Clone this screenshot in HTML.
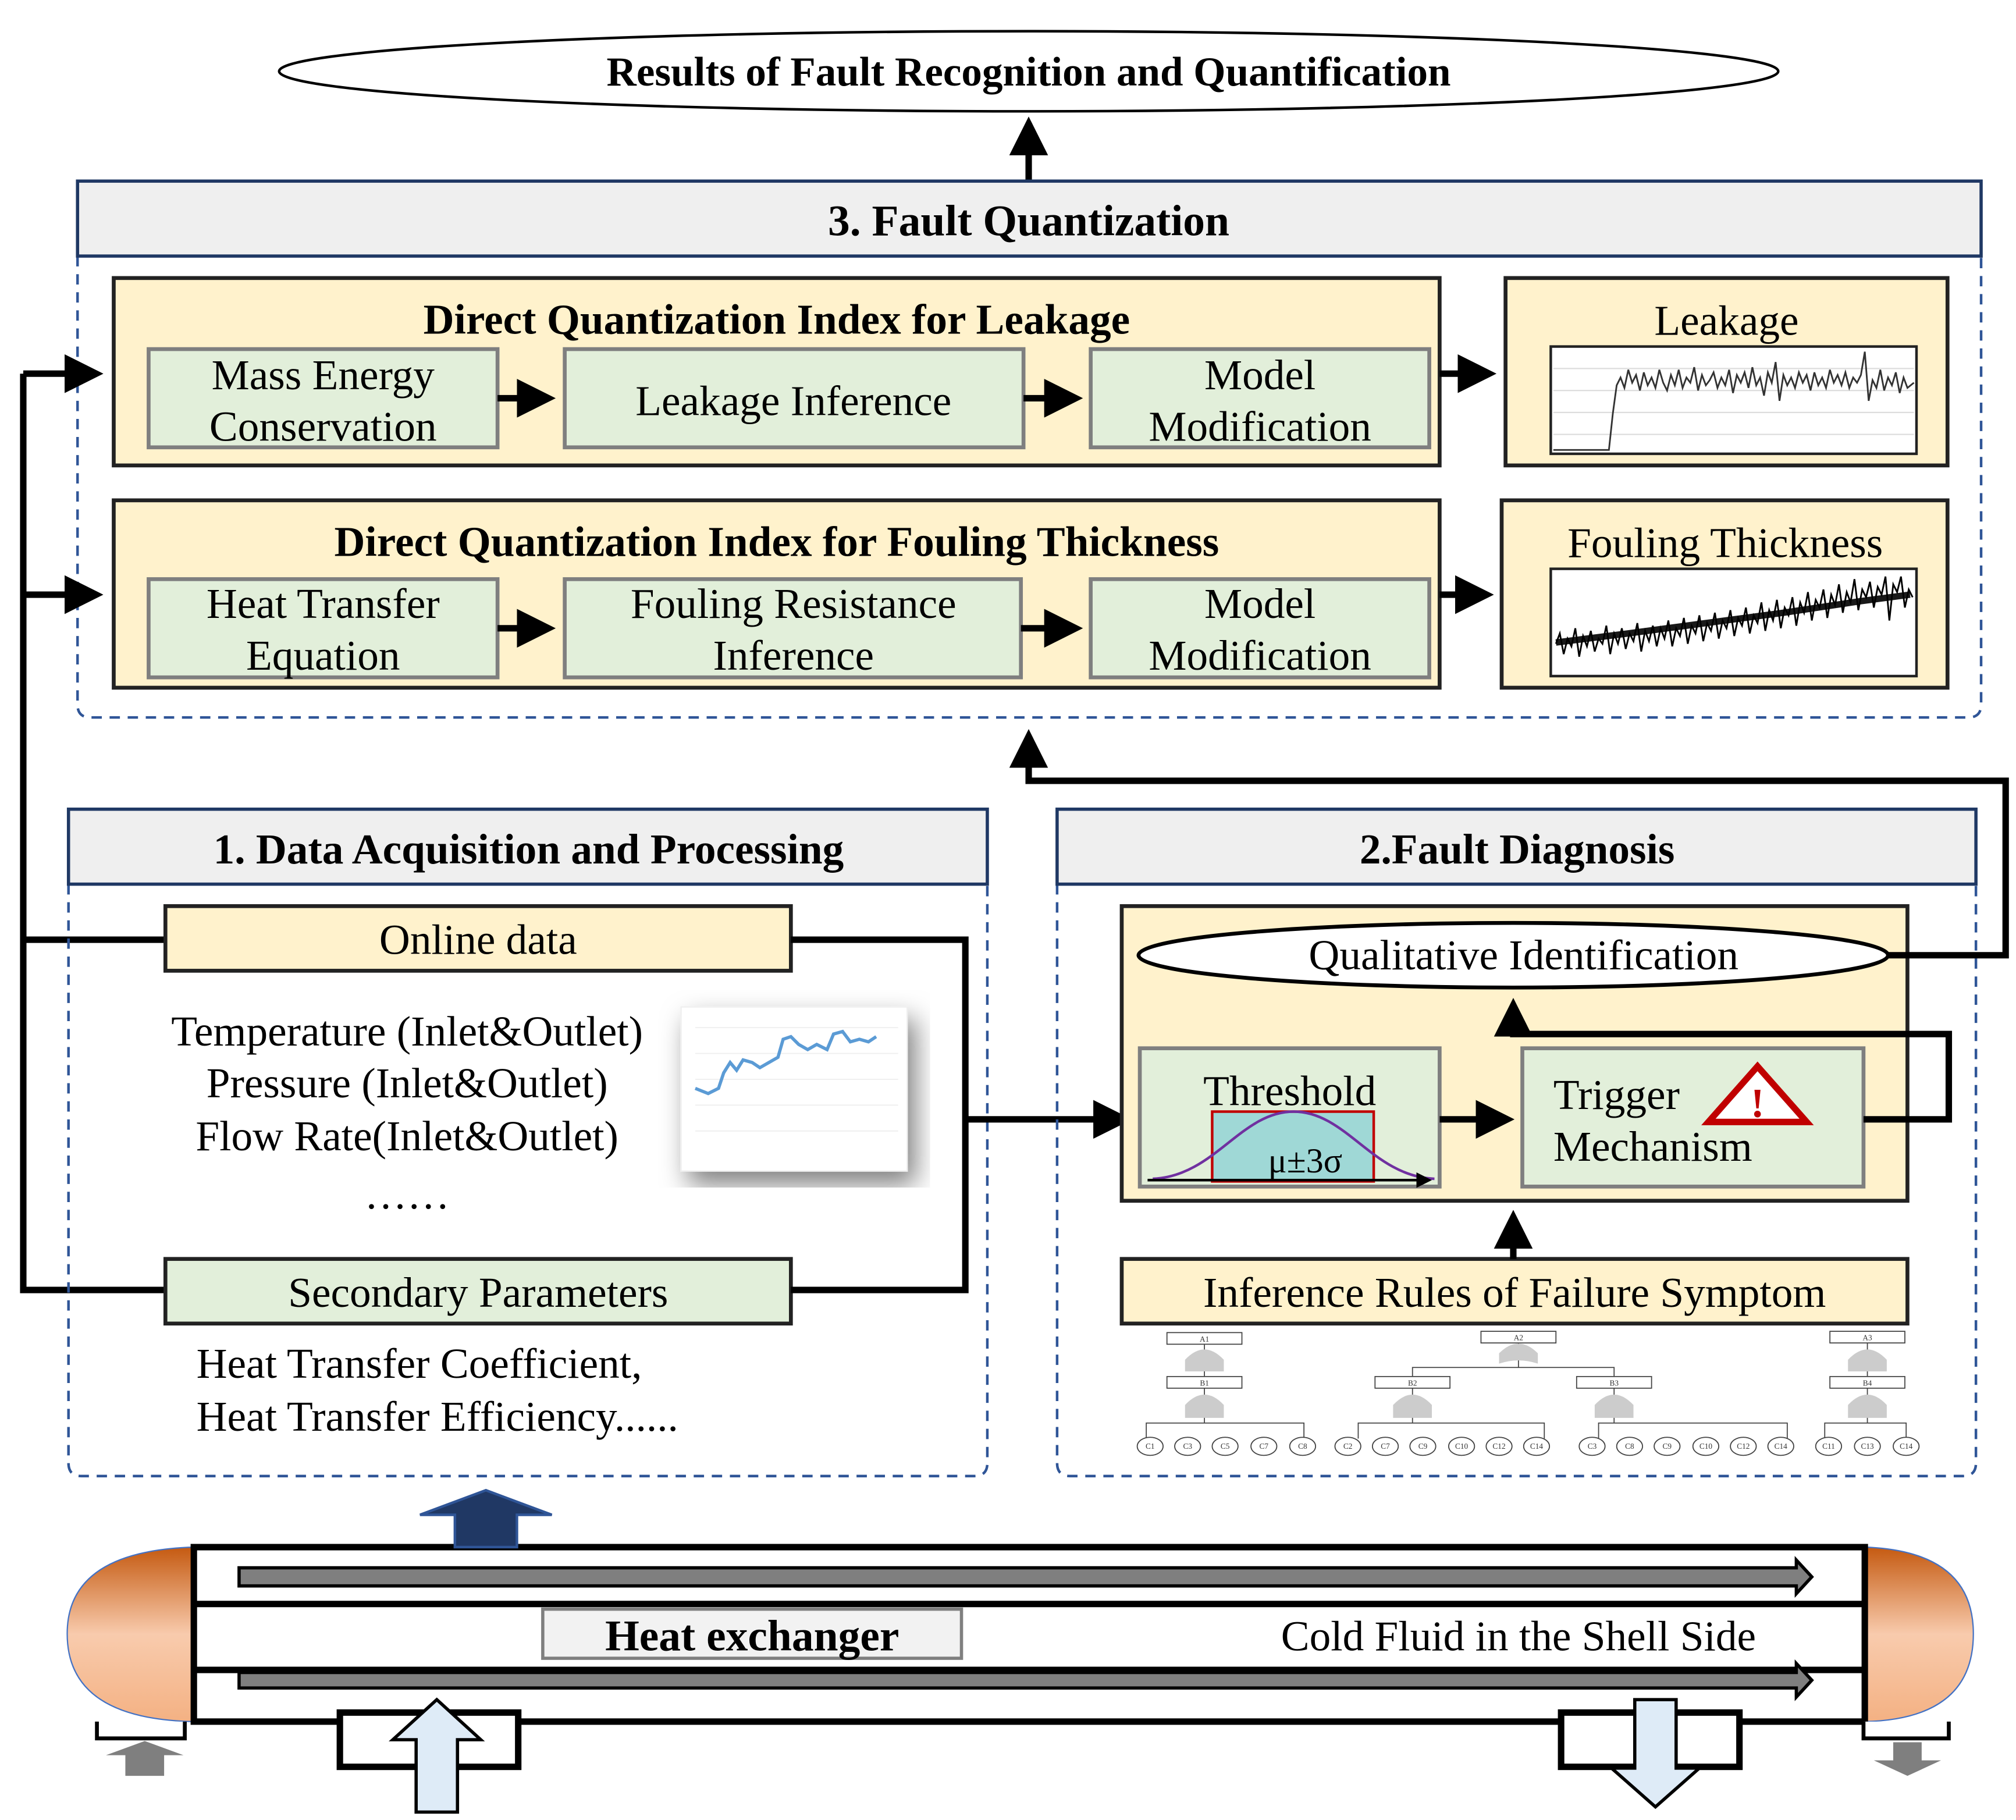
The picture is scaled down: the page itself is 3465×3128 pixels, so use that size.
<!DOCTYPE html>
<html><head><meta charset="utf-8"><style>html,body{margin:0;padding:0;background:#fff}svg{display:block}text{font-family:"Liberation Serif",serif}</style></head>
<body>
<svg width="3465" height="3128" viewBox="0 0 1560 1408" xmlns="http://www.w3.org/2000/svg">
<defs>
<marker id="ah" markerWidth="6" markerHeight="6" refX="4" refY="3" orient="auto" markerUnits="strokeWidth"><path d="M0,0 L6,3 L0,6 z" fill="#000"/></marker>
<linearGradient id="cap" x1="0" y1="0" x2="0" y2="1"><stop offset="0" stop-color="#c55a11"/><stop offset="0.5" stop-color="#f8cbad"/><stop offset="1" stop-color="#f4b183"/></linearGradient>
<filter id="sh"><feDropShadow dx="6" dy="10" stdDeviation="10" flood-color="#000" flood-opacity="0.5"/></filter>
</defs>
<g fill="none" stroke="#000">
<ellipse cx="796" cy="55" rx="580" ry="31" fill="#fff" stroke-width="2"/>
<line x1="796" y1="140" x2="796" y2="100" stroke-width="5" marker-end="url(#ah)"/>
<path d="M60,198 V545 Q60,555 70,555 H1523 Q1533,555 1533,545 V198" stroke="#2f5597" stroke-width="2" stroke-dasharray="8,6"/>
<rect x="60" y="140" width="1473" height="58" fill="#efefef" stroke="#1f3864" stroke-width="2.5"/>
<rect x="88" y="215" width="1026" height="145" fill="#fff2cc" stroke="#222" stroke-width="3"/>
<rect x="88" y="387" width="1026" height="145" fill="#fff2cc" stroke="#222" stroke-width="3"/>
<g fill="#e2efda" stroke="#7f7f7f" stroke-width="3">
<rect x="115" y="270" width="270" height="76"/><rect x="437" y="270" width="355" height="76"/><rect x="844" y="270" width="262" height="76"/>
<rect x="115" y="448" width="270" height="76"/><rect x="437" y="448" width="353" height="76"/><rect x="844" y="448" width="262" height="76"/>
</g>
<g stroke-width="5" marker-end="url(#ah)">
<line x1="385" y1="308" x2="420" y2="308"/><line x1="792" y1="308" x2="828" y2="308"/>
<line x1="385" y1="486" x2="420" y2="486"/><line x1="790" y1="486" x2="828" y2="486"/>
<line x1="1114" y1="289" x2="1148" y2="289"/><line x1="1114" y1="460" x2="1146" y2="460"/>
<line x1="18" y1="289" x2="70" y2="289"/><line x1="18" y1="460" x2="70" y2="460"/>
</g>
<rect x="1165" y="215" width="342" height="145" fill="#fff2cc" stroke="#222" stroke-width="3"/>
<rect x="1200" y="268" width="283" height="83" fill="#fff" stroke="#222" stroke-width="2"/>
<rect x="1162" y="387" width="345" height="145" fill="#fff2cc" stroke="#222" stroke-width="3"/>
<rect x="1200" y="440" width="283" height="83" fill="#fff" stroke="#222" stroke-width="2"/>
<g stroke="#ddd" stroke-width="1"><line x1="1202" y1="285" x2="1481" y2="285"/><line x1="1202" y1="302" x2="1481" y2="302"/><line x1="1202" y1="319" x2="1481" y2="319"/><line x1="1202" y1="336" x2="1481" y2="336"/></g>
<polyline stroke="#333" stroke-width="1.3" points="1202,348 1245,348 1248,320 1251,298 1254,292 1257,300 1260,286 1263,296 1266,290 1269,302 1272,288 1275,298 1278,292 1281,300 1284,286 1287,296 1290,302 1293,290 1296,298 1299,286 1302,300 1305,292 1308,296 1311,284 1314,302 1317,290 1320,298 1323,294 1326,288 1329,300 1332,292 1335,298 1338,286 1341,304 1344,290 1347,296 1350,288 1353,300 1356,284 1359,298 1362,292 1365,306 1368,288 1371,296 1374,280 1377,310 1380,290 1383,298 1386,292 1389,300 1392,288 1395,296 1398,290 1401,302 1404,288 1407,298 1410,292 1413,300 1416,286 1419,296 1422,290 1425,298 1428,288 1431,300 1434,292 1437,296 1440,290 1443,272 1446,310 1449,294 1452,300 1455,286 1458,302 1461,292 1464,298 1467,288 1470,304 1473,292 1476,300 1481,296"/>
<polyline stroke="#000" stroke-width="1.3" points="1204,498 1207,490 1210,506 1213,494 1216,500 1219,486 1222,508 1225,492 1228,500 1231,488 1234,504 1237,494 1240,498 1243,484 1246,506 1249,490 1252,498 1255,486 1258,502 1261,490 1264,496 1267,482 1270,504 1273,488 1276,496 1279,484 1282,500 1285,486 1288,494 1291,480 1294,500 1297,486 1300,492 1303,478 1306,498 1309,484 1312,490 1315,476 1318,496 1321,482 1324,488 1327,474 1330,494 1333,480 1336,486 1339,472 1342,492 1345,478 1348,484 1351,470 1354,490 1357,476 1360,482 1363,466 1366,488 1369,472 1372,480 1375,464 1378,486 1381,470 1384,476 1387,462 1390,484 1393,466 1396,474 1399,458 1402,480 1405,464 1408,470 1411,456 1414,478 1417,460 1420,468 1423,452 1426,474 1429,458 1432,466 1435,448 1438,472 1441,456 1444,462 1447,450 1450,470 1453,454 1456,460 1459,446 1462,480 1465,452 1468,458 1471,446 1474,470 1477,456 1480,462"/>
<polyline stroke="#000" stroke-width="5" opacity="0.9" points="1204,497 1260,490 1320,482 1380,474 1440,465 1478,460"/>
<polyline stroke-width="5" points="18,289 18,998 128,998"/><line x1="18" y1="727" x2="128" y2="727" stroke-width="5"/>
<path d="M53,684 V1132 Q53,1142 63,1142 H754 Q764,1142 764,1132 V684" stroke="#2f5597" stroke-width="2" stroke-dasharray="8,6"/>
<rect x="53" y="626" width="711" height="58" fill="#efefef" stroke="#1f3864" stroke-width="2.5"/>
<rect x="128" y="701" width="484" height="50" fill="#fff2cc" stroke="#222" stroke-width="3"/>
<rect x="128" y="974" width="484" height="50" fill="#e2efda" stroke="#222" stroke-width="3"/>
<polyline stroke-width="5" points="612,727 747,727 747,998 612,998"/>
<line x1="747" y1="866" x2="866" y2="866" stroke-width="5" marker-end="url(#ah)"/>
<rect x="527" y="779" width="175" height="127" fill="#fff" stroke="#eee" filter="url(#sh)"/>
<g stroke="#eee" stroke-width="0.8"><line x1="538" y1="795" x2="695" y2="795"/><line x1="538" y1="815" x2="695" y2="815"/><line x1="538" y1="835" x2="695" y2="835"/><line x1="538" y1="855" x2="695" y2="855"/><line x1="538" y1="875" x2="695" y2="875"/></g>
<polyline stroke="#5b9bd5" stroke-width="2.5" points="538,842 548,846 556,842 560,830 565,822 570,828 575,820 582,822 588,826 595,822 602,818 606,804 612,802 618,808 625,812 632,808 640,812 645,800 652,798 658,806 665,804 672,806 678,802"/>
<path d="M818,684 V1132 Q818,1142 828,1142 H1519 Q1529,1142 1529,1132 V684" stroke="#2f5597" stroke-width="2" stroke-dasharray="8,6"/>
<rect x="818" y="626" width="711" height="58" fill="#efefef" stroke="#1f3864" stroke-width="2.5"/>
<rect x="868" y="701" width="608" height="228" fill="#fff2cc" stroke="#222" stroke-width="3"/>
<ellipse cx="1171" cy="739" rx="290" ry="25" fill="#fff" stroke-width="3"/>
<rect x="882" y="811" width="232" height="107" fill="#e2efda" stroke="#7f7f7f" stroke-width="3"/>
<rect x="938" y="860" width="125" height="54" fill="#9fd8d6" stroke="#c00000" stroke-width="2"/>
<path d="M892,912 C940,910 960,860 1001,860 C1042,860 1062,910 1110,912" stroke="#7030a0" stroke-width="2"/>
<line x1="888" y1="913" x2="1104" y2="913" stroke-width="2" marker-end="url(#ah)"/>
<rect x="1178" y="811" width="264" height="107" fill="#e2efda" stroke="#7f7f7f" stroke-width="3"/>
<path d="M1360,825 L1398,868 L1322,868 Z" fill="#fff" stroke="#c00000" stroke-width="5"/>
<line x1="1114" y1="866" x2="1162" y2="866" stroke-width="5" marker-end="url(#ah)"/>
<polyline stroke-width="5" points="1442,866 1508,866 1508,800 1171,800 1171,782" marker-end="url(#ah)"/>
<polyline stroke-width="5" points="1461,739 1552,739 1552,604 796,604 796,574" marker-end="url(#ah)"/>
<rect x="868" y="974" width="608" height="50" fill="#fff2cc" stroke="#222" stroke-width="3"/>
<line x1="1171" y1="974" x2="1171" y2="946" stroke-width="5" marker-end="url(#ah)"/>
<g stroke="#444" stroke-width="0.8">
<rect x="903" y="1031" width="58" height="9" fill="#fff"/><rect x="903" y="1065" width="58" height="9" fill="#fff"/>
<rect x="1146" y="1030" width="58" height="9" fill="#fff"/><rect x="1064" y="1065" width="58" height="9" fill="#fff"/><rect x="1220" y="1065" width="58" height="9" fill="#fff"/>
<rect x="1416" y="1030" width="58" height="9" fill="#fff"/><rect x="1416" y="1065" width="58" height="9" fill="#fff"/>
<path d="M932,1040V1065 M932,1074V1101 M1175,1039V1058 M1093,1065V1058H1249V1065 M1093,1074V1101 M1249,1074V1101 M1445,1039V1065 M1445,1074V1101"/>
<path d="M887,1113V1101H1009V1113 M1051,1113V1101H1195V1113 M1237,1113V1101H1383V1113 M1412,1113V1101H1475V1113"/>
</g>
<g fill="#ccc" stroke="none">
<path d="M917,1061 V1052 Q932,1036 947,1052 V1061Z"/><path d="M917,1097 V1087 Q932,1071 947,1087 V1097Z"/>
<path d="M1160,1055 V1047 Q1175,1032 1190,1047 V1055 Q1175,1050 1160,1055Z"/>
<path d="M1078,1097 V1087 Q1093,1071 1108,1087 V1097Z"/><path d="M1234,1097 V1087 Q1249,1071 1264,1087 V1097Z"/>
<path d="M1430,1061 V1052 Q1445,1036 1460,1052 V1061Z"/><path d="M1430,1097 V1087 Q1445,1071 1460,1087 V1097Z"/>
</g>
<g fill="#fff" stroke="#444" stroke-width="0.8">
<ellipse cx="890" cy="1119" rx="10" ry="7"/><ellipse cx="919" cy="1119" rx="10" ry="7"/><ellipse cx="948" cy="1119" rx="10" ry="7"/><ellipse cx="978" cy="1119" rx="10" ry="7"/><ellipse cx="1008" cy="1119" rx="10" ry="7"/>
<ellipse cx="1043" cy="1119" rx="10" ry="7"/><ellipse cx="1072" cy="1119" rx="10" ry="7"/><ellipse cx="1101" cy="1119" rx="10" ry="7"/><ellipse cx="1131" cy="1119" rx="10" ry="7"/><ellipse cx="1160" cy="1119" rx="10" ry="7"/><ellipse cx="1189" cy="1119" rx="10" ry="7"/>
<ellipse cx="1232" cy="1119" rx="10" ry="7"/><ellipse cx="1261" cy="1119" rx="10" ry="7"/><ellipse cx="1290" cy="1119" rx="10" ry="7"/><ellipse cx="1320" cy="1119" rx="10" ry="7"/><ellipse cx="1349" cy="1119" rx="10" ry="7"/><ellipse cx="1378" cy="1119" rx="10" ry="7"/>
<ellipse cx="1415" cy="1119" rx="10" ry="7"/><ellipse cx="1445" cy="1119" rx="10" ry="7"/><ellipse cx="1475" cy="1119" rx="10" ry="7"/>
</g>
<path d="M150,1197 Q52,1200 52,1264 Q52,1330 150,1332 Z" fill="url(#cap)" stroke="#4472c4" stroke-width="1"/>
<path d="M1443,1197 Q1527,1200 1527,1264 Q1527,1330 1443,1332 Z" fill="url(#cap)" stroke="#4472c4" stroke-width="1"/>
<rect x="150" y="1197" width="1293" height="135" fill="#fff" stroke-width="5"/>
<line x1="150" y1="1241" x2="1443" y2="1241" stroke-width="5"/><line x1="150" y1="1292" x2="1443" y2="1292" stroke-width="5"/>
<path d="M185,1213 H1390 V1207 L1402,1220 L1390,1233 V1227 H185Z" fill="#7f7f7f" stroke-width="2.5"/>
<path d="M185,1294 H1390 V1287 L1402,1300 L1390,1313 V1306 H185Z" fill="#7f7f7f" stroke-width="2.5"/>
<rect x="420" y="1245" width="324" height="38" fill="#f2f2f2" stroke="#7f7f7f" stroke-width="2.5"/>
<path d="M352,1197 V1172 H325 L376,1153 L427,1172 H400 V1197Z" fill="#203864" stroke="#2f5597" stroke-width="2"/>
<path d="M75,1332 V1345 H143 V1332" fill="#fff" stroke-width="3"/>
<path d="M1442,1332 V1345 H1508 V1332" fill="#fff" stroke-width="3"/>
<path d="M97,1374 V1358 H82 L112,1347 L142,1358 H127 V1374Z" fill="#7f7f7f" stroke="none"/>
<path d="M1465,1348 V1362 H1450 L1476,1374 L1502,1362 H1487 V1348Z" fill="#7f7f7f" stroke="none"/>
<rect x="263" y="1325" width="138" height="42" fill="#fff" stroke-width="5"/>
<rect x="1208" y="1325" width="138" height="42" fill="#fff" stroke-width="5"/>
<path d="M322,1402 V1346 H304 L338,1315 L372,1346 H354 V1402Z" fill="#deebf7" stroke-width="2.5"/>
<path d="M1265,1315 V1368 H1247 L1281,1398 L1315,1368 H1297 V1315Z" fill="#deebf7" stroke-width="2.5"/>
</g>
<g fill="#000" text-anchor="middle" font-size="33">
<text x="796" y="66" font-weight="bold" font-size="32">Results of Fault Recognition and Quantification</text>
<text x="796" y="182" font-weight="bold" font-size="34">3. Fault Quantization</text>
<text x="601" y="258" font-weight="bold" font-size="33">Direct Quantization Index for Leakage</text>
<text x="601" y="430" font-weight="bold" font-size="33">Direct Quantization Index for Fouling Thickness</text>
<text x="250" y="301">Mass Energy</text><text x="250" y="341">Conservation</text>
<text x="614" y="321">Leakage Inference</text>
<text x="975" y="301">Model</text><text x="975" y="341">Modification</text>
<text x="250" y="478">Heat Transfer</text><text x="250" y="518">Equation</text>
<text x="614" y="478">Fouling Resistance</text><text x="614" y="518">Inference</text>
<text x="975" y="478">Model</text><text x="975" y="518">Modification</text>
<text x="1336" y="259">Leakage</text>
<text x="1335" y="431">Fouling Thickness</text>
<text x="409" y="668" font-weight="bold" font-size="33">1. Data Acquisition and Processing</text>
<text x="1174" y="668" font-weight="bold" font-size="33">2.Fault Diagnosis</text>
<text x="370" y="738">Online data</text>
<text x="315" y="809">Temperature (Inlet&amp;Outlet)</text>
<text x="315" y="849">Pressure (Inlet&amp;Outlet)</text>
<text x="315" y="890">Flow Rate(Inlet&amp;Outlet)</text>
<text x="315" y="935">……</text>
<text x="370" y="1011">Secondary Parameters</text>
<text x="152" y="1066" text-anchor="start">Heat Transfer Coefficient,</text>
<text x="152" y="1107" text-anchor="start">Heat Transfer Efficiency......</text>
<text x="1179" y="750">Qualitative Identification</text>
<text x="998" y="855">Threshold</text>
<text x="1010" y="907" font-size="27">μ±3σ</text>
<text x="1202" y="858" text-anchor="start">Trigger</text>
<text x="1202" y="898" text-anchor="start">Mechanism</text>
<text x="1360" y="864" font-weight="bold" font-size="32" fill="#c00000">!</text>
<text x="1172" y="1011">Inference Rules of Failure Symptom</text>
<text x="582" y="1277" font-weight="bold" font-size="34">Heat exchanger</text>
<text x="1175" y="1277">Cold Fluid in the Shell Side</text>
</g>
<g font-size="6" fill="#333" text-anchor="middle" font-family="Liberation Sans,sans-serif">
<text x="932" y="1038">A1</text><text x="932" y="1072">B1</text><text x="1175" y="1037">A2</text><text x="1093" y="1072">B2</text><text x="1249" y="1072">B3</text><text x="1445" y="1037">A3</text><text x="1445" y="1072">B4</text>
<text x="890" y="1121">C1</text><text x="919" y="1121">C3</text><text x="948" y="1121">C5</text><text x="978" y="1121">C7</text><text x="1008" y="1121">C8</text>
<text x="1043" y="1121">C2</text><text x="1072" y="1121">C7</text><text x="1101" y="1121">C9</text><text x="1131" y="1121">C10</text><text x="1160" y="1121">C12</text><text x="1189" y="1121">C14</text>
<text x="1232" y="1121">C3</text><text x="1261" y="1121">C8</text><text x="1290" y="1121">C9</text><text x="1320" y="1121">C10</text><text x="1349" y="1121">C12</text><text x="1378" y="1121">C14</text>
<text x="1415" y="1121">C11</text><text x="1445" y="1121">C13</text><text x="1475" y="1121">C14</text>
</g>
</svg>
</body></html>
